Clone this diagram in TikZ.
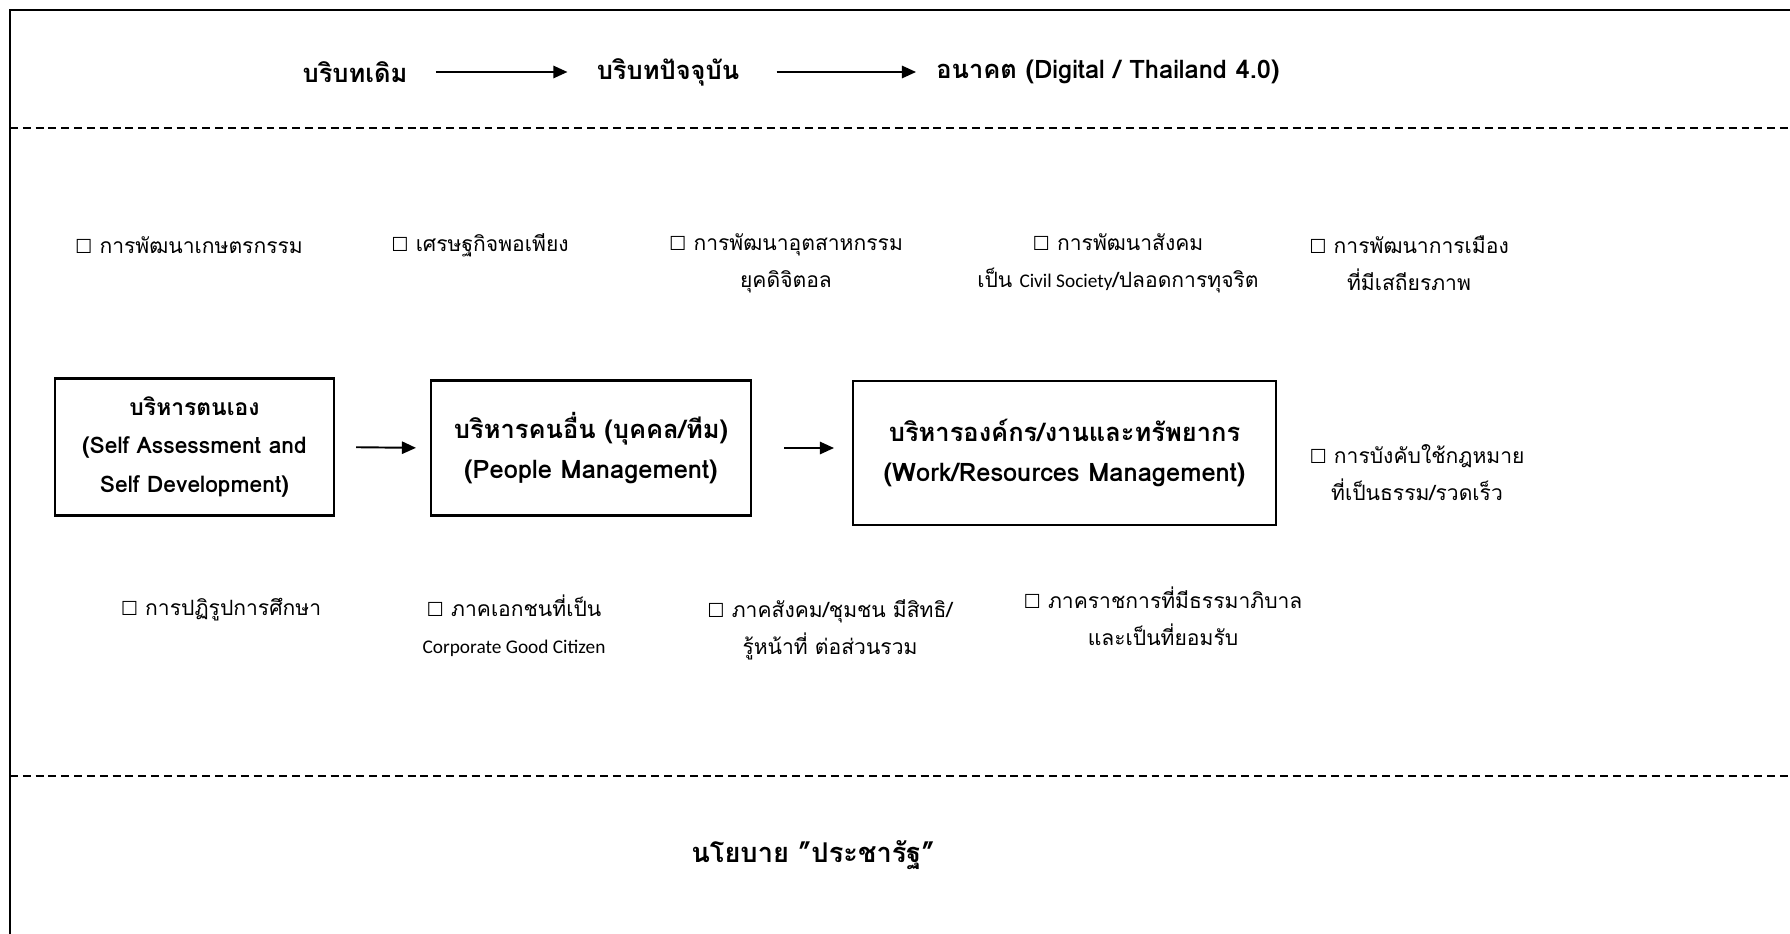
\documentclass[tikz,border=0pt]{standalone}
\usepackage{fontspec}
\setmainfont[Script=Thai]{Loma}
\newfontfamily\symfont{DejaVu Sans}
\newfontfamily\smallfont{Carlito}
\usetikzlibrary{arrows.meta,positioning}

\newcommand{\tickbox}{{\symfont\fontsize{11}{11}\selectfont ☐}\ }
\newcommand{\eng}[1]{{\smallfont\fontsize{11}{11}\selectfont #1}}

\begin{document}
\begin{tikzpicture}[
  x = 0.02cm, y = -0.02cm,
  heading/.style = {inner sep=0pt,
    font = \fontsize{14.5}{17}\selectfont\bfseries},
  goal/.style = {align=center, inner sep=0pt,
    font = \fontsize{12}{21}\selectfont},
  stage/.style = {draw, line width=1.2pt, align=center, inner sep=0pt,
    font = \fontsize{14.5}{23}\selectfont\bfseries},
  flow/.style = {-{Triangle[length=8pt, width=7pt]}, line width=1.1pt},
  divider/.style = {line width=0.9pt, dash pattern=on 4.5pt off 2.8pt}
  ]
  \useasboundingbox (0,0) rectangle (1790,933);

  % frame and dividers
  \draw[line width=1.4pt] (10,960) -- (10,10) -- (1810,10);
  \draw[divider] (10,128) -- (1800,128);
  \draw[divider] (10,776) -- (1800,776);

  % time line
  \node[heading] (past) at (355,72) {บริบทเดิม};
  \node[heading] (now) at (668,72) {บริบทปัจจุบัน};
  \node[heading] (future) at (1108,72) {อนาคต (Digital / Thailand 4.0)};
  \draw[flow, shorten <=0.56cm, shorten >=0.58cm] (past) -- (now);
  \draw[flow, shorten <=0.74cm, shorten >=0.4cm] (now) -- (future);

  % upper goals
  \node[goal] (farm) at (189,245) {\tickbox การพัฒนาเกษตรกรรม};
  \node[goal] (economy) at (480,245) {\tickbox เศรษฐกิจพอเพียง};
  \node[goal] (industry) at (786,263) {\tickbox การพัฒนาอุตสาหกรรม\\ยุคดิจิตอล};
  \node[goal] (society) at (1118,263)
    {\tickbox การพัฒนาสังคม\\เป็น \eng{Civil Society}/ปลอดการทุจริต};
  \node[goal] (politics) at (1409,263) {\tickbox การพัฒนาการเมือง\\ที่มีเสถียรภาพ};

  % management stages
  \node[stage, minimum width=5.58cm, minimum height=2.74cm,
    font=\fontsize{13}{22}\selectfont\bfseries] (self) at (194.5,447)
    {บริหารตนเอง\\(Self Assessment and\\Self Development)};
  \node[stage, minimum width=6.4cm, minimum height=2.7cm] (people) at (591,448)
    {บริหารคนอื่น (บุคคล/ทีม)\\(People Management)};
  \node[stage, minimum width=8.46cm, minimum height=2.88cm] (work) at (1064.5,453)
    {บริหารองค์กร/งานและทรัพยากร\\(Work/Resources Management)};
  \draw[flow, shorten <=0.42cm, shorten >=0.28cm] (self.east) -- (people.west);
  \draw[flow, shorten <=0.64cm, shorten >=0.36cm] (people.east) -- (people.east -| work.west);
  \node[goal] (law) at (1417,473) {\tickbox การบังคับใช้กฎหมาย\\ที่เป็นธรรม/รวดเร็ว};

  % lower goals
  \node[goal] (education) at (221,610) {\tickbox การปฏิรูปการศึกษา};
  \node[goal] (private) at (514,626) {\tickbox ภาคเอกชนที่เป็น\\\eng{Corporate Good Citizen}};
  \node[goal] (community) at (830,630) {\tickbox ภาคสังคม/ชุมชน มีสิทธิ/\\รู้หน้าที่ ต่อส่วนรวม};
  \node[goal] (state) at (1163,616) {\tickbox ภาคราชการที่มีธรรมาภิบาล\\และเป็นที่ยอมรับ};

  % policy
  \node[heading, font=\fontsize{15.5}{18}\selectfont\bfseries] (policy) at (813,855)
    {นโยบาย ”ประชารัฐ”};
\end{tikzpicture}
\end{document}
